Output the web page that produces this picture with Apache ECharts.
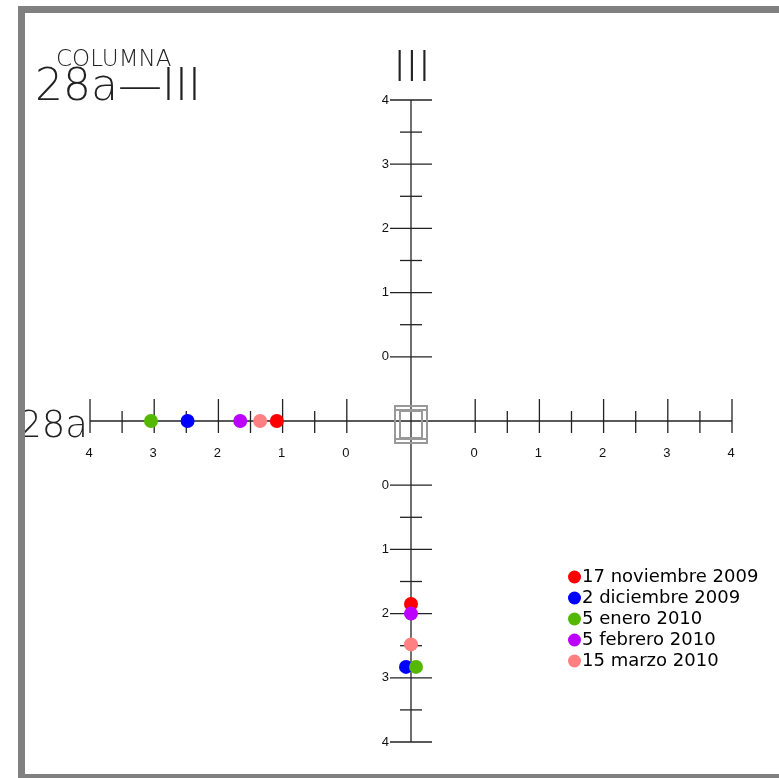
<!DOCTYPE html>
<html>
<head>
<meta charset="utf-8">
<script src="https://cdn.jsdelivr.net/npm/echarts@6/dist/echarts.min.js"></script>
<style>
html,body{margin:0;padding:0;background:#fff;}
#chart{width:779px;height:778px;}
</style>
</head>
<body>
<div id="chart"></div>
<script>
// ---- data ----
const dates = ['17 noviembre 2009', '2 diciembre 2009', '5 enero 2010', '5 febrero 2010', '15 marzo 2010'];
const colors = ['#ff0000', '#0000ff', '#55b800', '#bb00ff', '#ff8080'];
// readings on the horizontal (28a) axis, left branch
const readings28a = [1.09, 2.48, 3.05, 1.66, 1.35];
// readings on the vertical (III) axis, lower branch
const readingsIII = [1.85, 2.83, 2.83, 2.00, 2.48];
// tick labels on every branch of the cross
const majorTickLabels = [0, 1, 2, 3, 4];
const minorTickLabels = [0.5, 1.5, 2.5, 3.5];
const axisTitleH = '28a';
const axisTitleV = 'III';
const titleSmall = 'COLUMNA';
const titleBig = '28a\u2014III';

// branch value -> cross coordinate (each branch starts one unit from the centre)
const toCoord = (side, v) => side * (v + 1);

const thinFont = "'DejaVu Sans'";
const tickFont = "'Liberation Sans', Arial, sans-serif";

function renderCross(params, api) {
  const ch = [];
  const lineStyle = { stroke: '#222', lineWidth: 1.3 };
  const c0 = api.coord([0, 0]);
  const xl = api.coord([toCoord(-1, 4), 0]);
  const xr = api.coord([toCoord(1, 4), 0]);
  const yt = api.coord([0, toCoord(1, 4)]);
  const yb = api.coord([0, toCoord(-1, 4)]);
  ch.push({ type: 'line', shape: { x1: xl[0], y1: xl[1], x2: xr[0], y2: xr[1] }, style: lineStyle });
  ch.push({ type: 'line', shape: { x1: yt[0], y1: yt[1], x2: yb[0], y2: yb[1] }, style: lineStyle });
  [-1, 1].forEach(side => {
    majorTickLabels.forEach(v => {
      const ph = api.coord([toCoord(side, v), 0]);
      ch.push({ type: 'line', shape: { x1: ph[0], y1: ph[1] - 22, x2: ph[0], y2: ph[1] + 12 }, style: lineStyle });
      ch.push({ type: 'text', style: { text: String(v), x: ph[0] - 1, y: ph[1] + 32, align: 'center', verticalAlign: 'middle', font: '13px ' + tickFont, fill: '#111' } });
      const pv = api.coord([0, toCoord(side, v)]);
      ch.push({ type: 'line', shape: { x1: pv[0] - 21, y1: pv[1], x2: pv[0] + 21, y2: pv[1] }, style: lineStyle });
      ch.push({ type: 'text', style: { text: String(v), x: pv[0] - 22, y: pv[1], align: 'right', verticalAlign: 'middle', font: '13px ' + tickFont, fill: '#111' } });
    });
    minorTickLabels.forEach(v => {
      const ph = api.coord([toCoord(side, v), 0]);
      ch.push({ type: 'line', shape: { x1: ph[0], y1: ph[1] - 10, x2: ph[0], y2: ph[1] + 12 }, style: lineStyle });
      const pv = api.coord([0, toCoord(side, v)]);
      ch.push({ type: 'line', shape: { x1: pv[0] - 11, y1: pv[1], x2: pv[0] + 11, y2: pv[1] }, style: lineStyle });
    });
  });
  // column section symbol at the centre
  const g = { stroke: '#999', lineWidth: 2, fill: null };
  ch.push({ type: 'rect', shape: { x: c0[0] - 16, y: c0[1] - 15, width: 32, height: 37 }, style: g });
  ch.push({ type: 'rect', shape: { x: c0[0] - 11, y: c0[1] - 10, width: 22, height: 27 }, style: g });
  ch.push({ type: 'line', shape: { x1: c0[0] - 16, y1: c0[1] - 11, x2: c0[0] + 16, y2: c0[1] - 11 }, style: g });
  ch.push({ type: 'line', shape: { x1: c0[0] - 16, y1: c0[1] + 18, x2: c0[0] + 16, y2: c0[1] + 18 }, style: g });
  // axis names
  const lh = api.coord([toCoord(-1, 4), 0]);
  ch.push({ type: 'text', style: { text: axisTitleH, x: lh[0] - 2, y: lh[1] + 6, align: 'right', verticalAlign: 'middle', font: '200 37px ' + thinFont, fill: '#222' } });
  const tv = api.coord([0, toCoord(1, 4)]);
  ch.push({ type: 'text', style: { text: axisTitleV, x: tv[0] + 1, y: tv[1] - 30, align: 'center', verticalAlign: 'middle', font: '200 42px ' + thinFont, fill: '#222' } });
  return { type: 'group', children: ch };
}

const series = [{
  type: 'custom',
  name: 'cross',
  renderItem: renderCross,
  data: [[0, 0]],
  silent: true,
  z: 1,
  legendHoverLink: false
}];

dates.forEach((d, i) => {
  const nudge = i === 1 ? -5 : (i === 2 ? 5 : 0); // side-by-side for overlapping points
  series.push({
    type: 'scatter',
    name: d,
    symbol: 'circle',
    symbolSize: 14,
    itemStyle: { color: colors[i], opacity: 1 },
    z: 3,
    data: [
      { value: [toCoord(-1, readings28a[i]), 0] },
      { value: [0, toCoord(-1, readingsIII[i])], symbolOffset: [nudge, 0] }
    ]
  });
});

const chart = echarts.init(document.getElementById('chart'), null, { renderer: 'canvas' });
chart.setOption({
  animation: false,
  backgroundColor: '#fff',
  grid: { left: 90, top: 100, width: 642, height: 642 },
  xAxis: { type: 'value', min: -5, max: 5, show: false },
  yAxis: { type: 'value', min: -5, max: 5, show: false },
  legend: {
    data: dates,
    orient: 'vertical',
    left: 563,
    top: 563,
    itemWidth: 13,
    itemHeight: 13,
    itemGap: 3,
    icon: 'circle',
    textStyle: { fontFamily: thinFont, fontWeight: 'normal', fontSize: 18, color: '#000', padding: [0, 0, 0, -4] }
  },
  graphic: [
    { type: 'rect', shape: { x: 21.5, y: 9.5, width: 800, height: 768 }, style: { fill: null, stroke: '#808080', lineWidth: 7 }, z: 10 },
    { type: 'text', left: 56, top: 49, style: { text: titleSmall, font: '200 23px ' + thinFont, fill: '#222' } },
    { type: 'text', left: 35, top: 67, style: { text: titleBig, font: '200 44px ' + thinFont, fill: '#222' } }
  ],
  series: series
});
</script>
</body>
</html>
